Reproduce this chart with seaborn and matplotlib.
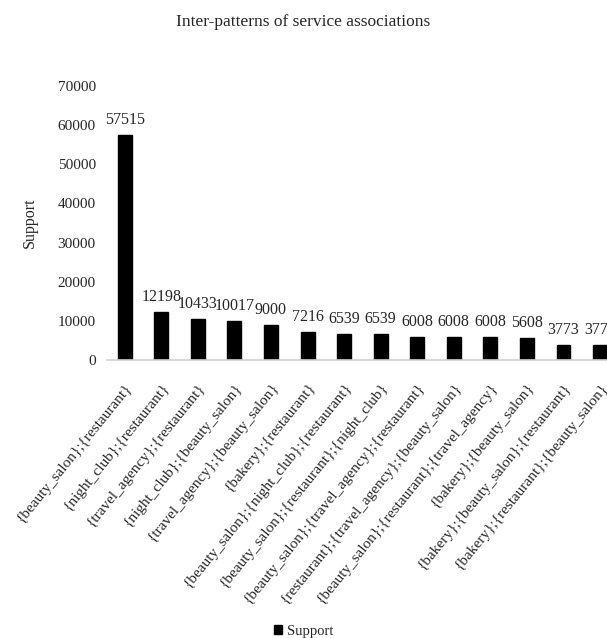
import matplotlib
matplotlib.use("Agg")
import matplotlib.pyplot as plt
import seaborn as sns
import pandas as pd
from matplotlib.patches import Patch

categories = [
    "{beauty_salon};{restaurant}",
    "{night_club};{restaurant}",
    "{travel_agency};{restaurant}",
    "{night_club};{beauty_salon}",
    "{travel_agency};{beauty_salon}",
    "{bakery};{restaurant}",
    "{beauty_salon};{night_club};{restaurant}",
    "{beauty_salon};{restaurant};{night_club}",
    "{beauty_salon};{travel_agency};{restaurant}",
    "{restaurant};{travel_agency};{beauty_salon}",
    "{beauty_salon};{restaurant};{travel_agency}",
    "{bakery};{beauty_salon}",
    "{bakery};{beauty_salon};{restaurant}",
    "{bakery};{restaurant};{beauty_salon}",
]
support = [57515, 12198, 10433, 10017, 9000, 7216, 6539, 6539, 6008, 6008, 6008, 5608, 3773, 3773]
yticks = [0, 10000, 20000, 30000, 40000, 50000, 60000, 70000]

sns.set_theme(style="white")
plt.rcParams['font.family'] = ['Liberation Serif', 'DejaVu Serif']

df = pd.DataFrame({"pattern": categories, "Support": support})

fig = plt.figure(figsize=(6.07, 6.38), dpi=100)
ax = fig.add_axes([0.176, 0.4357, 0.824, 0.4295])
sns.barplot(data=df, x="pattern", y="Support", color="black", width=0.38, ax=ax,
            saturation=1, edgecolor="black")

ax.set_ylim(0, 70000)
ax.set_xlim(-0.49, 13.19)
ax.set_yticks(yticks)
ax.set_yticklabels([str(t) for t in yticks], fontsize=11)
ax.set_xticks(range(len(categories)))
ax.set_xticklabels(categories, rotation=51, ha="right", rotation_mode="anchor", fontsize=11)
ax.tick_params(axis="x", length=0, pad=15)
ax.tick_params(axis="y", length=0, pad=8)
ax.set_xlabel("")
ax.set_ylabel("Support", fontsize=11.5, labelpad=14)
for s in ["top", "right", "left"]:
    ax.spines[s].set_visible(False)
ax.spines["bottom"].set_color("#d0d0d0")
ax.spines["bottom"].set_linewidth(1.2)

for i, v in enumerate(support):
    ax.annotate(str(v), (i, v), xytext=(0, 5), textcoords="offset points",
                ha="center", va="bottom", fontsize=11.5, annotation_clip=False)

fig.suptitle("Inter-patterns of service associations", y=0.978, fontsize=12.5)
fig.legend(handles=[Patch(facecolor="black", edgecolor="black", label="Support")],
           loc="lower center", bbox_to_anchor=(0.5, -0.02), frameon=False, fontsize=10.5,
           handlelength=0.55, handleheight=0.6, handletextpad=0.3)

fig.savefig("out.png", dpi=100)
